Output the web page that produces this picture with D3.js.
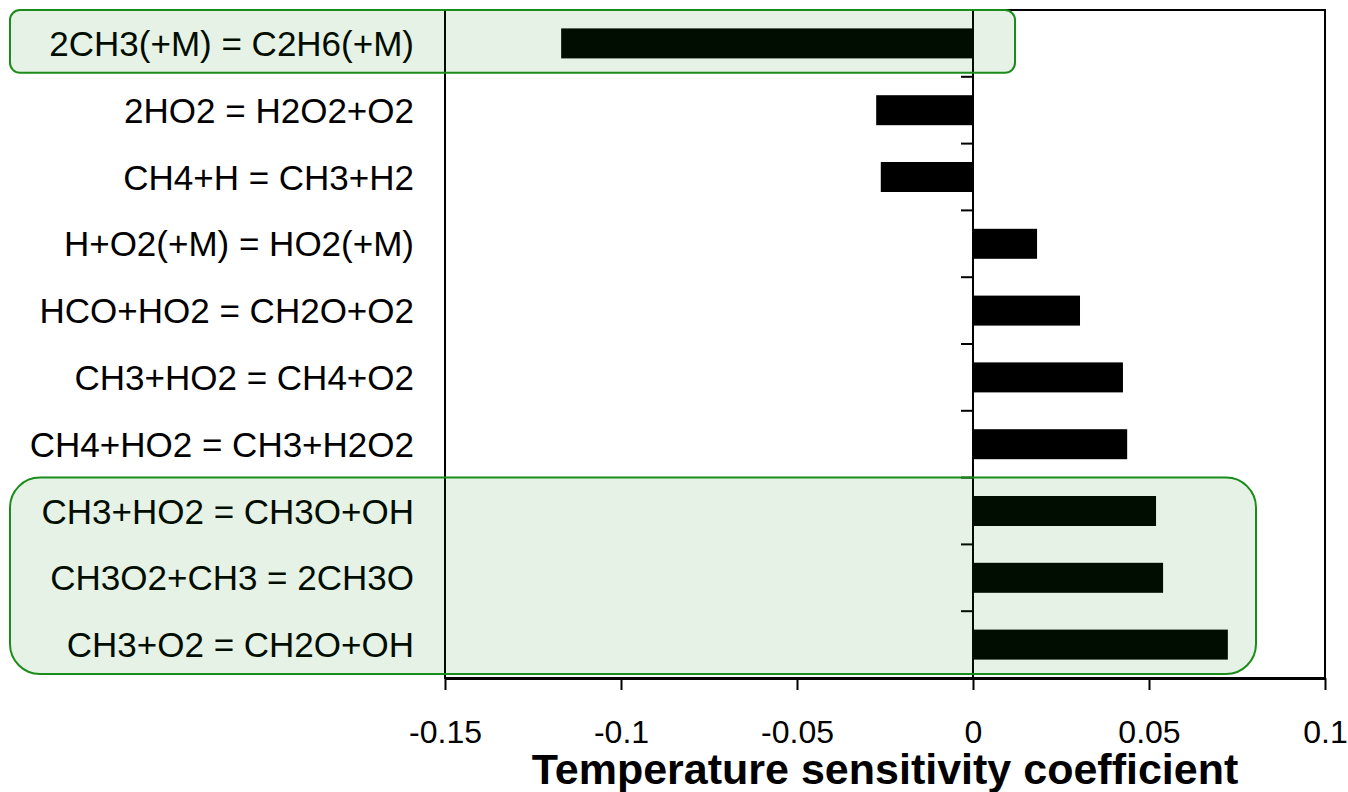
<!DOCTYPE html>
<html>
<head>
<meta charset="utf-8">
<script src="https://cdn.jsdelivr.net/npm/d3@7"></script>
<style>
  html, body { margin: 0; padding: 0; background: #fff; }
  svg { display: block; }
  text { font-family: Arial, "Liberation Sans", sans-serif; fill: #000; }
</style>
</head>
<body>
<svg id="chart" width="1348" height="792"></svg>
<script>
// Reactions, top to bottom
const reactions = [
  "2CH3(+M) = C2H6(+M)",
  "2HO2 = H2O2+O2",
  "CH4+H = CH3+H2",
  "H+O2(+M) = HO2(+M)",
  "HCO+HO2 = CH2O+O2",
  "CH3+HO2 = CH4+O2",
  "CH4+HO2 = CH3+H2O2",
  "CH3+HO2 = CH3O+OH",
  "CH3O2+CH3 = 2CH3O",
  "CH3+O2 = CH2O+OH"
];

// Temperature sensitivity coefficients
const sensitivity = [-0.117, -0.0275, -0.0262, 0.0182, 0.0304, 0.0426, 0.0438, 0.0520, 0.0540, 0.0724];

// X axis ticks
const xTicks = [-0.15, -0.1, -0.05, 0, 0.05, 0.1];
const xTickLabels = ["-0.15", "-0.1", "-0.05", "0", "0.05", "0.1"];

// Highlighted reaction groups (first and last reaction of each group)
const highlightGroups = [
  ["2CH3(+M) = C2H6(+M)", "2CH3(+M) = C2H6(+M)"],
  ["CH3+HO2 = CH3O+OH", "CH3+O2 = CH2O+OH"]
];

const svg = d3.select("#chart");
const plot = { left: 445, right: 1325, top: 10, bottom: 678 };

const x = d3.scaleLinear().domain([-0.15, 0.1]).range([plot.left, plot.right]);
const pad = 0.551;
const y = d3.scaleBand().domain(reactions).range([plot.top, plot.bottom])
  .paddingInner(pad).paddingOuter(pad / 2);
const step = y.step();
const slotTop = d => y(d) - step * pad / 2;

// Bars
svg.append("g").selectAll("rect")
  .data(reactions)
  .join("rect")
  .attr("x", (d, i) => x(Math.min(0, sensitivity[i])))
  .attr("width", (d, i) => Math.abs(x(sensitivity[i]) - x(0)))
  .attr("y", d => y(d))
  .attr("height", y.bandwidth())
  .attr("fill", "#000");

// Plot frame
svg.append("rect")
  .attr("x", plot.left).attr("y", plot.top)
  .attr("width", plot.right - plot.left).attr("height", plot.bottom - plot.top)
  .attr("fill", "none").attr("stroke", "#000").attr("stroke-width", 2);

// Zero line with category separator ticks
svg.append("line")
  .attr("x1", x(0)).attr("x2", x(0))
  .attr("y1", plot.top).attr("y2", plot.bottom)
  .attr("stroke", "#000").attr("stroke-width", 2);

const sepTicks = reactions.map(slotTop).concat([plot.bottom]);
svg.append("g").selectAll("line")
  .data(sepTicks)
  .join("line")
  .attr("x1", x(0) - 12).attr("x2", x(0))
  .attr("y1", d => d).attr("y2", d => d)
  .attr("stroke", "#000").attr("stroke-width", 2);

// Bottom axis
const xAxis = d3.axisBottom(x)
  .tickValues(xTicks)
  .tickFormat((d, i) => xTickLabels[i])
  .tickSize(12)
  .tickSizeOuter(0);

const gx = svg.append("g")
  .attr("transform", `translate(0,${plot.bottom})`)
  .call(xAxis);
gx.select(".domain").attr("stroke", "#000").attr("stroke-width", 3);
gx.selectAll(".tick line").attr("stroke", "#000").attr("stroke-width", 2);
gx.selectAll(".tick text")
  .attr("y", 65).attr("dy", null)
  .style("font-size", "32px")
  .style("font-family", "Arial, 'Liberation Sans', sans-serif")
  .attr("fill", "#000");

// Axis title
svg.append("text")
  .attr("x", (plot.left + plot.right) / 2)
  .attr("y", 784)
  .attr("text-anchor", "middle")
  .style("font-size", "43px")
  .style("font-weight", "bold")
  .text("Temperature sensitivity coefficient");

// Reaction labels
svg.append("g").selectAll("text")
  .data(reactions)
  .join("text")
  .attr("x", 414)
  .attr("y", d => y(d) + y.bandwidth() / 2 + 12.5)
  .attr("text-anchor", "end")
  .style("font-size", "35px")
  .text(d => d);

// Highlight boxes drawn over bars and labels
const boxRight = [1015, 1256];
const boxRadius = [10, 30];
svg.append("g").selectAll("rect")
  .data(highlightGroups)
  .join("rect")
  .attr("x", 10)
  .attr("y", g => slotTop(g[0]))
  .attr("width", (g, i) => boxRight[i] - 10)
  .attr("height", g => slotTop(g[1]) + step - slotTop(g[0]) - 4)
  .attr("rx", (g, i) => boxRadius[i])
  .attr("ry", (g, i) => boxRadius[i])
  .attr("fill", "rgba(0,128,0,0.1)")
  .attr("stroke", "#1a8c1a")
  .attr("stroke-width", 2);
</script>
</body>
</html>
